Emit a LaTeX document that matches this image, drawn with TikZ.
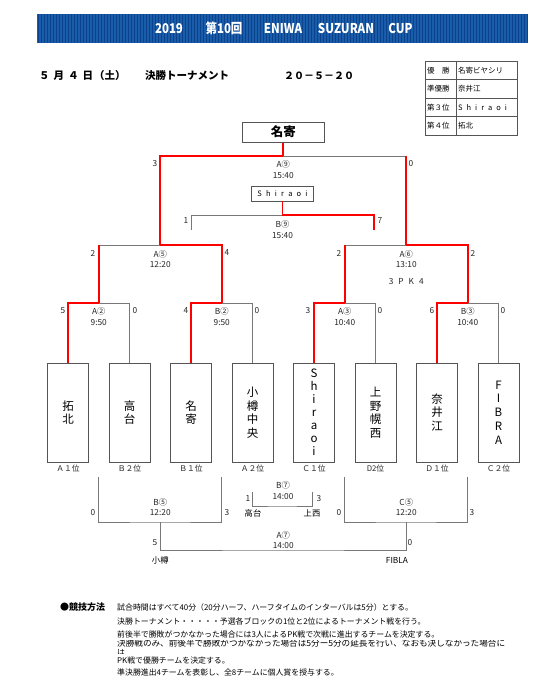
\documentclass[tikz,border=0pt]{standalone}
\usepackage{fontspec}
\setmainfont{Noto Sans CJK JP}
\usetikzlibrary{calc}
\definecolor{barblue}{RGB}{24,92,170}
\definecolor{bardark}{RGB}{12,66,140}
\definecolor{lgray}{RGB}{120,120,120}
\definecolor{wred}{RGB}{255,0,0}
\definecolor{boxgray}{RGB}{85,85,85}
\def\shir#1{S\kern#1 h\kern#1 i\kern#1 r\kern#1 a\kern#1 o\kern#1 i}
\begin{document}
\begin{tikzpicture}[x=1pt,y=-1pt,
  gl/.style={draw=lgray,line width=0.9pt},
  rl/.style={draw=wred,line width=1.9pt},
  lbl/.style={font=\fontsize{8.3}{9}\selectfont,inner sep=0pt,text=black!85},
  sc/.style={font=\fontsize{8.3}{9}\selectfont,inner sep=0pt,text=black!85},
  team/.style={draw=boxgray,line width=0.8pt,minimum width=41pt,minimum height=99pt,inner sep=0pt,align=center,font=\fontsize{11.5}{13.5}\selectfont},
  rank/.style={font=\fontsize{7.8}{9}\selectfont,inner sep=0pt,text=black!85},
  ttl/.style={font=\bfseries\fontsize{13.5}{14}\selectfont,text=white,inner sep=0pt},
  hdr/.style={font=\bfseries\fontsize{10.5}{11}\selectfont,inner sep=0pt,anchor=west},
  tab/.style={font=\fontsize{7.5}{8}\selectfont,inner sep=0pt,anchor=west},
  note/.style={font=\fontsize{7.9}{9}\selectfont,inner sep=0pt,anchor=west}
]
\useasboundingbox (0,0) rectangle (559,699);
\fill[white] (0,0) rectangle (559,699);

% title bar
\node[fill=barblue,minimum width=491pt,minimum height=29pt,inner sep=0pt] (bar) at (282.5,28.5) {};
\foreach \i in {0,...,163} \draw[bardark,line width=0.6pt] (38.5+3*\i,14.2) -- (38.5+3*\i,42.8);
\node[ttl] (w1) at (169,28.5) {\scalebox{0.85}[1]{2019}};
\node[ttl] (w2) at (224,28.5) {\scalebox{0.85}[1]{第10回}};
\node[ttl] (w3) at (283,28.5) {\scalebox{0.85}[1]{ENIWA}};
\node[ttl] (w4) at (346,28.5) {\scalebox{0.85}[1]{SUZURAN}};
\node[ttl] (w5) at (400.5,28.5) {\scalebox{0.85}[1]{CUP}};

% header line
\node[hdr] (d1) at (39,76) {５\hspace{4pt}月\hspace{4pt}４\hspace{4pt}日\hspace{1pt}（土）};
\node[hdr] (d2) at (145,76) {決勝トーナメント};
\node[hdr,font=\bfseries\fontsize{10}{11}\selectfont] (d3) at (284,76) {２０－５－２０};

% results table
\draw[boxgray,line width=0.8pt] (425,61) rectangle (517,135);
\draw[boxgray,line width=0.6pt] (456,61) -- (456,135);
\foreach \yy in {79.5,98,116.5} \draw[boxgray,line width=0.6pt] (425,\yy) -- (517,\yy);
\node[tab] (r1a) at (427,70.25) {優\hspace{7.5pt}勝};
\node[tab] (r1b) at (458,70.25) {名寄ビヤシリ};
\node[tab] (r2a) at (427,88.75) {準優勝};
\node[tab] (r2b) at (458,88.75) {奈井江};
\node[tab] (r3a) at (427,107.25) {第３位};
\node[tab] (r3b) at (458,107.25) {\shir{4pt}};
\node[tab] (r4a) at (427,125.75) {第４位};
\node[tab] (r4b) at (458,125.75) {拓北};

% champion
\node[draw=boxgray,line width=1pt,minimum width=82pt,minimum height=20pt,inner sep=0pt,font=\bfseries\fontsize{12.5}{13}\selectfont] (champ) at (283.25,132) {名寄};
% third place box
\node[draw=boxgray,line width=0.8pt,minimum width=62pt,minimum height=15pt,inner sep=0pt,font=\fontsize{7.5}{8}\selectfont] (shir) at (282.5,193.5) {\shir{4.2pt}};

% teams
\node[team] (t1) at (68,412.5) {拓\\北};
\node[team] (t2) at (129.5,412.5) {高\\台};
\node[team] (t3) at (191,412.5) {名\\寄};
\node[team] (t4) at (252.5,412.5) {小\\樽\\中\\央};
\node[team,font=\fontsize{11.5}{13}\selectfont] (t5) at (314,412.5) {S\\h\\i\\r\\a\\o\\i};
\node[team] (t6) at (375.5,412.5) {上\\野\\幌\\西};
\node[team] (t7) at (437,412.5) {奈\\井\\江};
\node[team,font=\fontsize{11.5}{13.8}\selectfont] (t8) at (498.5,412.5) {F\\I\\B\\R\\A};

\foreach \n/\x/\t in {k1/68/Ａ１位,k2/129.5/Ｂ２位,k3/191/Ｂ１位,k4/252.5/Ａ２位,k5/314/Ｃ１位,k6/375.5/D2位,k7/437/Ｄ１位,k8/498.5/Ｃ２位}
  \node[rank] (\n) at (\x,469) {\t};

% bracket coordinates
\coordinate (m1) at (98.75,303);
\coordinate (m2) at (221.75,303);
\coordinate (m3) at (344.75,303);
\coordinate (m4) at (467.75,303);
\coordinate (m5) at (160.25,245);
\coordinate (m6) at (406.25,245);
\coordinate (fin) at (283.25,156);
\coordinate (b9c) at (282.5,215);
\coordinate (b9l) at (191,230);
\coordinate (b9r) at (374,230);

% gray lines
\draw[gl] (t2.north) |- (m1);
\draw[gl] (t4.north) |- (m2);
\draw[gl] (t6.north) |- (m3);
\draw[gl] (t8.north) |- (m4);
\draw[gl] (m1 |- m5) -- (m5);
\draw[gl] (m3 |- m6) -- (m6);
\draw[gl] (m6 |- fin) -- (fin);
\draw[gl] (b9l) |- (b9c);
% red lines
\draw[rl] (t1.north) |- (m1);
\draw[rl] (t3.north) |- (m2);
\draw[rl] (t5.north) |- (m3);
\draw[rl] (t7.north) |- (m4);
\draw[rl] (m1) -- (m1 |- m5);
\draw[rl] (m2) |- (m5);
\draw[rl] (m3) -- (m3 |- m6);
\draw[rl] (m4) |- (m6);
\draw[rl] (m5) |- (fin);
\draw[rl] (m6) -- (m6 |- fin);
\draw[rl] (champ.south) -- (fin);
\draw[rl] (shir.south) -- (b9c) -| (b9r);

% match labels
\node[lbl] (a9) at (283.25,164) {A⑨};
\node[lbl] (a9t) at (283.25,176) {15:40};
\node[sc] (s9l) at (155,164) {3};
\node[sc] (s9r) at (411,164) {0};
\node[lbl] (b9) at (282.5,224) {B⑨};
\node[lbl] (b9t) at (282.5,235.5) {15:40};
\node[sc] (sb9l) at (186,221) {1};
\node[sc] (sb9r) at (380,221) {7};
\node[lbl] (a5) at (160.25,254) {A⑤};
\node[lbl] (a5t) at (160.25,265) {12:20};
\node[sc] (s5l) at (93,253) {2};
\node[sc] (s5r) at (227,253) {4};
\node[lbl] (a6) at (406.25,254) {A⑥};
\node[lbl] (a6t) at (406.25,265) {13:10};
\node[lbl] (pk) at (406.25,282) {3\hspace{5pt}P\hspace{5pt}K\hspace{5pt}4};
\node[sc] (s6l) at (339,253) {2};
\node[sc] (s6r) at (473,253) {2};
\node[lbl] (a2) at (98.75,311) {A②};
\node[lbl] (a2t) at (98.75,323) {9:50};
\node[sc] (s1l) at (63,311) {5};
\node[sc] (s1r) at (135,311) {0};
\node[lbl] (b2) at (221.75,311) {B②};
\node[lbl] (b2t) at (221.75,323) {9:50};
\node[sc] (s2l) at (186,311) {4};
\node[sc] (s2r) at (257,311) {0};
\node[lbl] (a3) at (344.75,311) {A③};
\node[lbl] (a3t) at (344.75,323) {10:40};
\node[sc] (s3l) at (308,311) {3};
\node[sc] (s3r) at (380,311) {0};
\node[lbl] (b3) at (467.75,311) {B③};
\node[lbl] (b3t) at (467.75,323) {10:40};
\node[sc] (s4l) at (432,311) {6};
\node[sc] (s4r) at (503,311) {0};

% lower bracket
\coordinate (b5l) at (98.75,477);
\coordinate (b5r) at (221.75,477);
\coordinate (b5c) at (160.25,522);
\coordinate (c5l) at (344.75,477);
\coordinate (c5r) at (467.75,477);
\coordinate (c5c) at (406.25,522);
\coordinate (a7c) at (283.25,550);
\coordinate (b7l) at (252.5,492);
\coordinate (b7r) at (312,492);
\coordinate (b7c) at (282.25,506);
\draw[gl] (b5l) |- (b5c) -| (b5r);
\draw[gl] (c5l) |- (c5c) -| (c5r);
\draw[gl] (b5c) |- (a7c) -| (c5c);
\draw[gl] (b7l) |- (b7c) -| (b7r);

\node[lbl] (b5) at (160.25,502) {B⑤};
\node[lbl] (b5t) at (160.25,513) {12:20};
\node[sc] (sb5l) at (93,513) {0};
\node[sc] (sb5r) at (227,513) {3};
\node[lbl] (c5) at (406.25,502) {C⑤};
\node[lbl] (c5t) at (406.25,513) {12:20};
\node[sc] (sc5l) at (339,513) {0};
\node[sc] (sc5r) at (472,513) {3};
\node[lbl] (a7) at (283.25,535) {A⑦};
\node[lbl] (a7t) at (283.25,546) {14:00};
\node[sc] (sa7l) at (155,543) {5};
\node[sc] (sa7r) at (410,543) {0};
\node[lbl,text=black] (otaru) at (160.25,560) {小樽};
\node[lbl,text=black] (fibla) at (397,560) {FIBLA};
\node[lbl] (b7) at (283,485) {B⑦};
\node[lbl] (b7t) at (283,497) {14:00};
\node[sc] (sb7l) at (248,499) {1};
\node[sc] (sb7r) at (319,499) {3};
\node[lbl,text=black] (takadai) at (253,513) {高台};
\node[lbl,text=black] (kamisai) at (312,513) {上西};

% notes
\node[note,font=\bfseries\fontsize{9}{10}\selectfont] (n0) at (60,607) {●競技方法};
\node[note] (n1) at (117,607) {試合時間はすべて40分（20分ハーフ、ハーフタイムのインターバルは5分）とする。};
\node[note] (n2) at (117,621) {決勝トーナメント・・・・・予選各ブロックの1位と2位によるトーナメント戦を行う。};
\node[note] (n3) at (117,634) {前後半で勝敗がつかなかった場合には3人によるPK戦で次戦に進出するチームを決定する。};
\begin{scope}
\clip (110,640.5) rectangle (530,647);
\node[note,font=\fontsize{8.6}{9}\selectfont] (n4) at (117,643.5) {決勝戦のみ、前後半で勝敗がつかなかった場合は5分ー5分の延長を行い、なおも決しなかった場合に};
\end{scope}
\begin{scope}
\clip (110,648.2) rectangle (530,653.5);
\node[note] (n4b) at (117,652.3) {は};
\end{scope}
\node[note] (n5) at (117,660.8) {PK戦で優勝チームを決定する。};
\node[note] (n6) at (117,672) {準決勝進出4チームを表彰し、全8チームに個人賞を授与する。};
\end{tikzpicture}
\end{document}
